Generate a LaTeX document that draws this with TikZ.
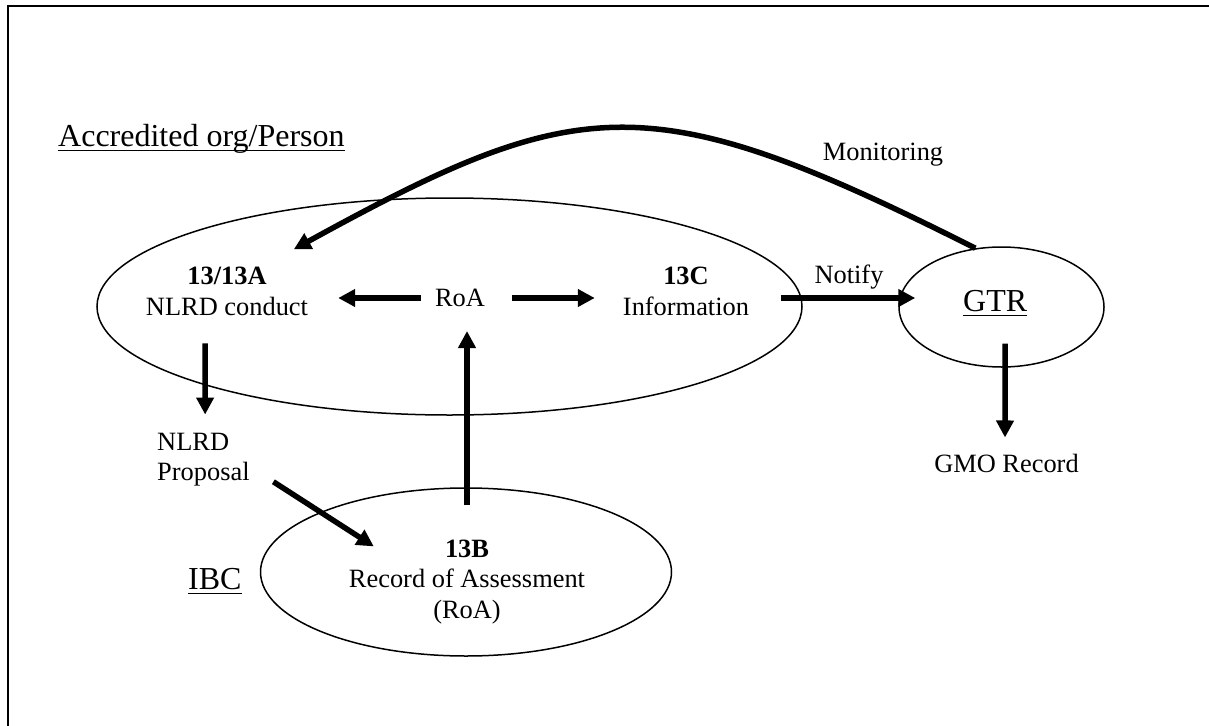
\documentclass[tikz,border=0pt]{standalone}
\usepackage{fontspec}
\setmainfont{Liberation Serif}
\usetikzlibrary{shapes.geometric,arrows.meta,calc}
\begin{document}
\begin{tikzpicture}[x=1pt,y=-1pt,
  txt/.style={inner sep=0pt, font=\fontsize{26.4}{31}\selectfont},
  bigtxt/.style={inner sep=0pt, font=\fontsize{32}{38}\selectfont},
  oval/.style={draw, ellipse, line width=1.5pt, inner sep=0pt},
  arr/.style={line width=5.5pt, -{Triangle[length=17pt,width=17pt]}},
  uline/.style={line width=1.6pt},
  frameline/.style={line width=2pt}]
\useasboundingbox (0,0) rectangle (1209,725);
% frame (right and bottom sides fall outside the picture)
\draw[frameline] (1212,6) -- (7.5,6) -- (7.5,728);

% ovals
\node[oval, minimum width=705pt, minimum height=217pt] (acc) at (449.5,306.5) {};
\node[oval, minimum width=205pt, minimum height=120pt] (gtr) at (1001.5,307) {};
\node[oval, minimum width=411pt, minimum height=168pt] (ibc) at (466,572) {};

% headings
\node[bigtxt, anchor=base west] (acctext) at (58,146) {Accredited org/Person};
\draw[uline] ($(acctext.base west)+(0,4.5)$) -- ($(acctext.base east)+(0,4.5)$);
\node[bigtxt, anchor=base west] (ibctext) at (188,589) {IBC};
\draw[uline] ($(ibctext.base west)+(0,4.5)$) -- ($(ibctext.base east)+(0,4.5)$);
\node[bigtxt, anchor=base west] (gtrtext) at (963,311) {GTR};
\draw[uline] ($(gtrtext.base west)+(0,4.5)$) -- ($(gtrtext.base east)+(0,4.5)$);

% texts
\node[txt, anchor=base] (t13a) at (227,284) {\bfseries 13/13A};
\node[txt, anchor=base] (nlrdc) at (227,315) {NLRD conduct};
\node[txt] (roa) at (460,298) {RoA};
\node[txt, anchor=base] (t13c) at (686,284) {\bfseries 13C};
\node[txt, anchor=base] (info) at (686,315) {Information};
\node[txt, anchor=base] (notify) at (849,283) {Notify};
\node[txt, anchor=base] (monitoring) at (883,160) {Monitoring};
\node[txt, anchor=base] (gmo) at (1006.5,472) {GMO Record};
\node[txt, anchor=base west] (nlrdp1) at (157,450) {NLRD};
\node[txt, anchor=base west] (nlrdp2) at (157,480) {Proposal};
\node[txt, anchor=base] (t13b) at (467,557) {\bfseries 13B};
\node[txt, anchor=base] (rec) at (467,587) {Record of Assessment};
\node[txt, anchor=base] (roa2) at (467,618) {(RoA)};

% connectors
\draw[arr] ($(roa.west)+(-14,0)$) -- ($(roa.west -| nlrdc.east)+(30,0)$);
\draw[arr] ($(roa.east)+(27,0)$) -- ($(roa.east -| info.west)+(-28,0)$);
\draw[arr] ($(ibc.north)+(1,18)$) -- ($(roa.south)+(7,24)$);
\draw[arr] ($(nlrdc.south)+(-22,28)$) -- ($(nlrdp1.north)+(12,-18)$);
\draw[arr] ($(nlrdp2.east)+(23.6,8.1)$) -- ($(t13b.west)+(-71,-2)$);
\draw[arr] ($(acc.east)+(-22,-8.5)$) -- ($(gtr.west)+(17,-9)$);
\draw[arr] ($(gtrtext.south)+(10,32)$) -- ($(gmo.north)+(-1.5,-16)$);
\draw[arr] (gtr.114.6) .. controls (650,84) and (580,92) .. ($(t13a.north east)+(27,-17)$);
\end{tikzpicture}
\end{document}
